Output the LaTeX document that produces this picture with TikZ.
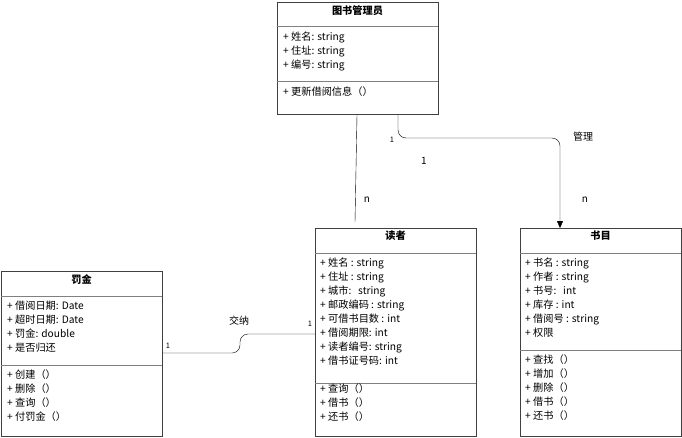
\documentclass[tikz,border=0pt]{standalone}
\usepackage{fontspec}
\setmainfont{Noto Sans CJK SC}
\usetikzlibrary{arrows.meta}
\newcommand\umlfont{\fontsize{10.2}{14}\selectfont\lineskiplimit=-10pt\relax}
\tikzset{
  umlbox/.style={draw=black!75, thick, fill=white, inner sep=0pt, anchor=north west},
  umltext/.style={anchor=north west, align=left, inner sep=0pt, font=\umlfont},
  umltitle/.style={anchor=north, inner sep=0pt, font=\fontsize{10.2}{14}\selectfont\bfseries},
  mult/.style={inner sep=0pt, font=\fontsize{7.5}{8}\selectfont},
  lbl/.style={inner sep=0pt, font=\fontsize{10}{10}\selectfont},
  myarrow/.style=-{Triangle[length=7pt, width=6pt]}
}
\begin{document}
\begin{tikzpicture}[x=1pt, y=-1pt]
    \useasboundingbox (0,0) rectangle (682,437);

    % boxes
    \node[umlbox, minimum width=161pt, minimum height=112pt] (admin)  at (277,2)   {};
    \node[umlbox, minimum width=161pt, minimum height=208pt] (reader) at (315,228) {};
    \node[umlbox, minimum width=161pt, minimum height=208pt] (book)   at (520,228) {};
    \node[umlbox, minimum width=161pt, minimum height=165pt] (fine)   at (1,271)   {};

    % separators
    \draw[gray] (277,26) -- (438,26);  \draw[gray] (277,81) -- (438,81);
    \draw[gray] (315,253) -- (476,253); \draw[gray] (315,383) -- (476,383);
    \draw[gray] (520,253) -- (681,253); \draw[gray] (520,350) -- (681,350);
    \draw[gray] (1,296) -- (162,296);   \draw[gray] (1,365) -- (162,365);

    % titles
    \node[umltitle] (adminT)  at (357.5,5)   {图书管理员};
    \node[umltitle] (readerT) at (395.5,231) {读者};
    \node[umltitle] (bookT)   at (600.5,231) {书目};
    \node[umltitle] (fineT)   at (81.5,274)  {罚金};

    % attributes and methods
    \node[umltext] (adminA) at (283,32) {+ 姓名: string\\+ 住址: string\\+ 编号: string};
    \node[umltext] (adminM) at (283,87) {+ 更新借阅信息（）};
    \node[umltext] (readerA) at (320,258) {+ 姓名 : string\\+ 住址 : string\\+ 城市:\ \ \ string\\+ 邮政编码 : string\\+ 可借书目数 : int\\+ 借阅期限: int\\+ 读者编号: string\\+ 借书证号码: int};
    \node[umltext] (readerM) at (320,384) {+ 查询（）\\+ 借书（）\\+ 还书（）};
    \node[umltext] (bookA) at (525,258) {+ 书名 : string\\+ 作者 : string\\+ 书号:\ \ \ int\\+ 库存 : int\\+ 借阅号 : string\\+ 权限};
    \node[umltext] (bookM) at (525,355) {+ 查找（）\\+ 增加（）\\+ 删除（）\\+ 借书（）\\+ 还书（）};
    \node[umltext] (fineA) at (7,301) {+ 借阅日期: Date\\+ 超时日期: Date\\+ 罚金: double\\+ 是否归还};
    \node[umltext] (fineM) at (7,370) {+ 创建（）\\+ 删除（）\\+ 查询（）\\+ 付罚金（）};

    % connectors
    \coordinate (readerTop) at (355,222);
    \draw (admin.south west) ++(80,0) coordinate (a1) (a1) -- (readerTop);
    \draw[myarrow, rounded corners=8pt] (admin.south west) ++(121,0) |- (560,138) -- (book.north west -| 560,0);
    \draw[rounded corners=8pt] (fine.east |- 0,353) -- (240,353) -- (240,334) -- (reader.west |- 0,334);

    % labels
    \node[lbl]  (nA)   at (367,200) {n};
    \node[mult] (oneA) at (392,140) {1};
    \node[lbl]  (oneB) at (424,161) {1};
    \node[lbl]  (mgr)  at (583,137) {管理};
    \node[lbl]  (nB)   at (585,200) {n};
    \node[mult] (oneC) at (168,346) {1};
    \node[lbl]  (pay)  at (239,321) {交纳};
    \node[mult] (oneD) at (310,324) {1};
\end{tikzpicture}
\end{document}
